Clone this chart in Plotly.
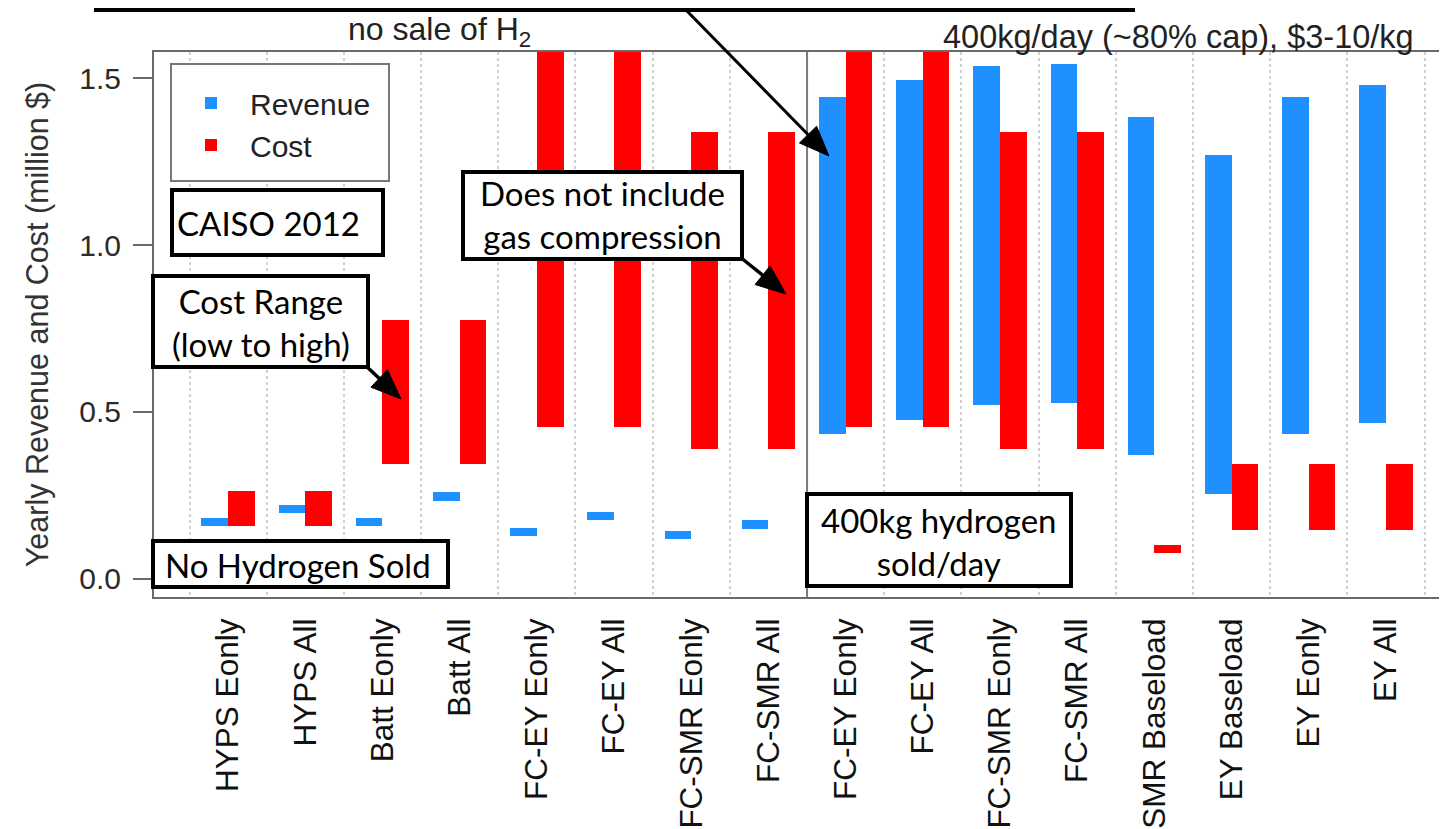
import math
import plotly.graph_objects as go

# ---------------- data ----------------
categories = ["HYPS Eonly", "HYPS All", "Batt Eonly", "Batt All",
              "FC-EY Eonly", "FC-EY All", "FC-SMR Eonly", "FC-SMR All",
              "FC-EY Eonly", "FC-EY All", "FC-SMR Eonly", "FC-SMR All",
              "SMR Baseload", "EY Baseload", "EY Eonly", "EY All"]
section_sizes = [8, 8]
section_titles = ["no sale of H<sub>2</sub>", "400kg/day (~80% cap), $3-10/kg"]

rev_low = [0.160, 0.198, 0.159, 0.234, 0.129, 0.177, 0.121, 0.149,
           0.433, 0.475, 0.520, 0.527, 0.371, 0.255, 0.433, 0.467]
rev_high = [0.184, 0.222, 0.183, 0.259, 0.154, 0.200, 0.144, 0.177,
            1.444, 1.494, 1.537, 1.542, 1.382, 1.269, 1.444, 1.479]
cost_low = [0.160, 0.160, 0.343, 0.343, 0.456, 0.456, 0.388, 0.388,
            0.456, 0.456, 0.388, 0.388, 0.077, 0.146, 0.146, 0.146]
cost_high = [0.262, 0.262, 0.775, 0.775, 1.700, 1.700, 1.338, 1.338,
             1.700, 1.700, 1.338, 1.338, 0.102, 0.344, 0.344, 0.344]

y_ticks = [0.0, 0.5, 1.0, 1.5]
y_tick_labels = ["0.0", "0.5", "1.0", "1.5"]

# ---------------- style ----------------
BLUE = "#1E90FF"
RED = "#FF0000"
AXIS_GRAY = "#6a6a6a"
SANS = "Liberation Sans, Arial, sans-serif"
CALLOUT = "Lato, Carlito, sans-serif"

OFF = 8  # page body margin of the browser
W, H = 1447, 829
ML, MT, MR = 154 - OFF, 52 - OFF, OFF
MB = H - (597 - OFF)
PW, PH = W - ML - MR, H - MT - MB


def px(x):
    """screen x (pixels) -> paper coordinate"""
    return (x - OFF - ML) / PW


def py(y):
    """screen y (pixels) -> paper coordinate"""
    return (H - MB - (y - OFF)) / PH


xs = list(range(len(categories)))
bw = 0.345

fig = go.Figure()
fig.add_trace(go.Bar(
    x=xs, y=[h - l for h, l in zip(rev_high, rev_low)], base=rev_low,
    name="Revenue", marker=dict(color=BLUE, line=dict(width=0)),
    offset=-bw, width=bw))
fig.add_trace(go.Bar(
    x=xs, y=[h - l for h, l in zip(cost_high, cost_low)], base=cost_low,
    name="Cost", marker=dict(color=RED, line=dict(width=0)),
    offset=0, width=bw))

sep = section_sizes[0] - 0.5
grid_pos = [k + 0.5 for k in range(-1, len(categories)) if (k + 0.5) != sep]

fig.update_layout(
    width=W, height=H,
    margin=dict(l=ML, r=MR, t=MT, b=MB, autoexpand=False),
    plot_bgcolor="white", paper_bgcolor="white",
    barmode="overlay", bargap=0,
    showlegend=True,
    legend=dict(x=px(172), y=py(77), xanchor="left", yanchor="top",
                itemwidth=68,
                bgcolor="rgba(0,0,0,0)", borderwidth=0,
                font=dict(family=SANS, size=30, color="#222")),
    xaxis=dict(
        range=[-0.96, 15.79], tickmode="array", tickvals=xs, ticktext=categories,
        tickangle=-90, ticks="", ticklabelstandoff=7,
        tickfont=dict(family=SANS, size=31.5, color="#111"),
        showgrid=False, zeroline=False,
        showline=True, linecolor=AXIS_GRAY, linewidth=2, mirror=True,
        minor=dict(tickmode="array", tickvals=grid_pos, showgrid=True,
                   gridcolor="#d0d0d0", griddash="dot", gridwidth=1.5, ticks=""),
        automargin=False),
    yaxis=dict(
        range=[-0.054, 1.578], tickmode="array", tickvals=y_ticks, ticktext=y_tick_labels,
        ticks="outside", ticklen=19, tickwidth=2, tickcolor=AXIS_GRAY,
        ticklabelstandoff=6,
        tickfont=dict(family=SANS, size=30, color="#2b2b2b"),
        showgrid=False, zeroline=False,
        showline=True, linecolor=AXIS_GRAY, linewidth=2,
        title=dict(text="Yearly Revenue and Cost (million $)", standoff=22,
                   font=dict(family=SANS, size=30.5, color="#333")),
        automargin=False),
)

# section separator
fig.add_shape(type="line", xref="x", yref="paper", x0=sep, x1=sep, y0=0, y1=1,
              line=dict(color="#7a7a7a", width=2), layer="above")

# section titles
fig.add_annotation(text=section_titles[0], xref="paper", yref="paper",
                   x=px(439), y=py(31), xanchor="center", yanchor="middle",
                   showarrow=False, font=dict(family=SANS, size=32, color="#222"))
fig.add_annotation(text=section_titles[1], xref="paper", yref="paper",
                   x=px(1178), y=py(37), xanchor="center", yanchor="middle",
                   showarrow=False, font=dict(family=SANS, size=32.5, color="#222"))

# legend frame
fig.add_shape(type="rect", xref="paper", yref="paper",
              x0=px(171), x1=px(389), y0=py(181), y1=py(64),
              line=dict(color="#777", width=2), fillcolor="white", layer="above")


def callout(x0, y0, x1, y1, text, tx, ty):
    fig.add_shape(type="rect", xref="paper", yref="paper",
                  x0=px(x0), x1=px(x1), y0=py(y1), y1=py(y0),
                  line=dict(color="black", width=4), fillcolor="white", layer="above")
    if text:
        fig.add_annotation(text=text, xref="paper", yref="paper", x=px(tx), y=py(ty),
                           xanchor="center", yanchor="middle",
                           showarrow=False, align="center",
                           font=dict(family=CALLOUT, size=33, color="black"))


def arrow(tail, tip, w=3.5, head_len=30, head_half=12):
    dx, dy = tip[0] - tail[0], tip[1] - tail[1]
    d = math.hypot(dx, dy)
    ux, uy = dx / d, dy / d
    bx, by = tip[0] - ux * head_len, tip[1] - uy * head_len
    fig.add_shape(type="line", xref="paper", yref="paper",
                  x0=px(tail[0]), y0=py(tail[1]), x1=px(bx + ux * 2), y1=py(by + uy * 2),
                  line=dict(color="black", width=w), layer="above")
    p1 = (bx - uy * head_half, by + ux * head_half)
    p2 = (bx + uy * head_half, by - ux * head_half)
    path = "M {:.5f},{:.5f} L {:.5f},{:.5f} L {:.5f},{:.5f} Z".format(
        px(tip[0]), py(tip[1]), px(p1[0]), py(p1[1]), px(p2[0]), py(p2[1]))
    fig.add_shape(type="path", xref="paper", yref="paper", path=path,
                  fillcolor="black", line=dict(color="black", width=1), layer="above")


callout(96, -60, 1133, 10, "", 0, 0)
callout(172, 190, 383, 255, "CAISO 2012", 268, 223)
callout(153, 276, 368, 367, "Cost Range<br>(low to high)", 261, 322)
callout(463, 172, 742, 259, "Does not include<br>gas compression", 602, 214)
callout(153, 541, 448, 587, "No Hydrogen Sold", 298, 565)
callout(807, 494, 1071, 586, "400kg hydrogen<br>sold/day", 939, 541)

arrow((686, 10), (829, 156), w=3)
arrow((366, 366), (401, 399))
arrow((740, 257), (786, 294))

fig.write_html("out.html")
